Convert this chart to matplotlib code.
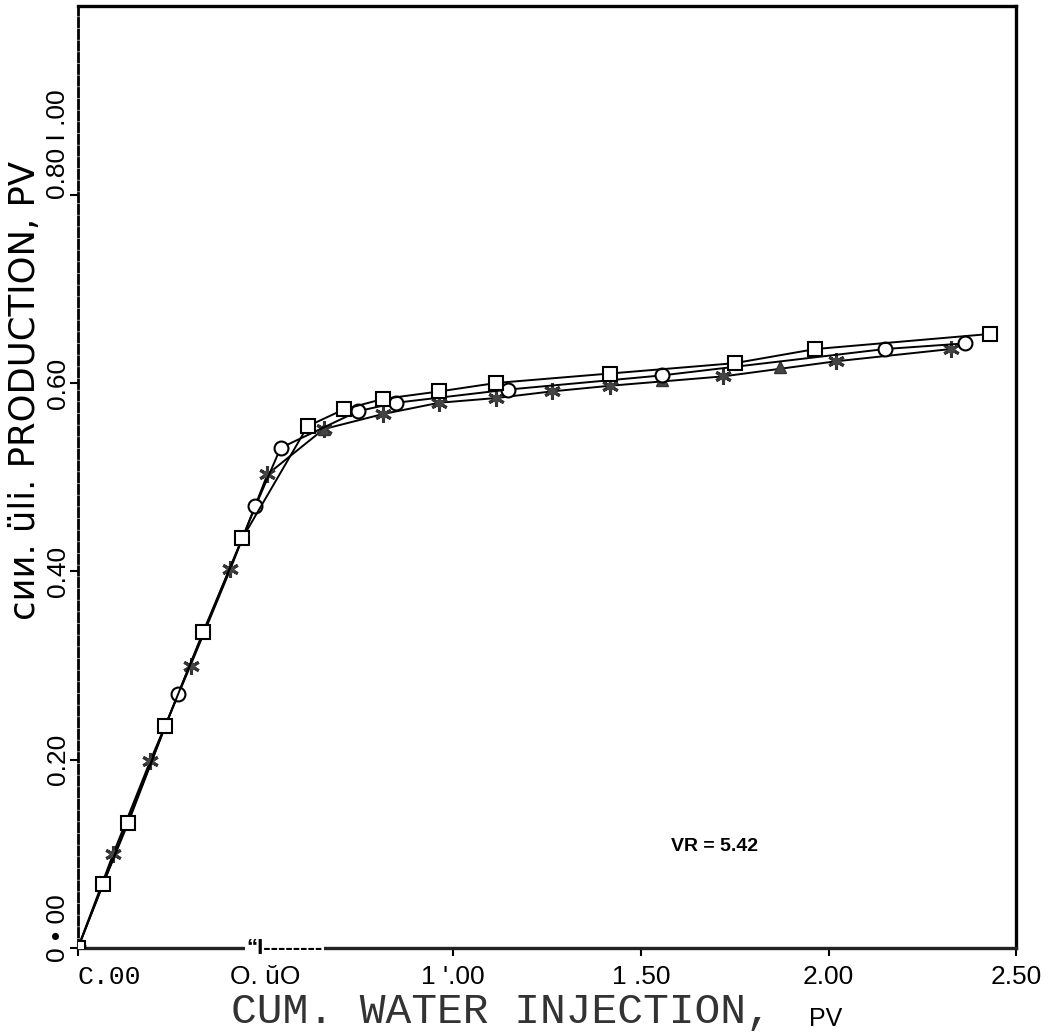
import matplotlib
matplotlib.use("Agg")
import matplotlib.pyplot as plt
import matplotlib.transforms as mtransforms

# Series
# squares (upper line)
x_sq = [0.0, 0.067, 0.134, 0.233, 0.334, 0.438, 0.612, 0.709, 0.813, 0.963,
        1.115, 1.417, 1.75, 1.965, 2.43]
y_sq = [0.0, 0.068, 0.133, 0.236, 0.336, 0.435, 0.554, 0.572, 0.583, 0.591,
        0.600, 0.610, 0.621, 0.636, 0.652]

# circles (middle line)
x_ci = [0.0, 0.267, 0.473, 0.54, 0.746, 0.848, 1.147, 1.556, 2.15, 2.364]
y_ci = [0.0, 0.27, 0.469, 0.531, 0.570, 0.579, 0.593, 0.608, 0.636, 0.642]

# asterisks (lower line)
x_st = [0.0, 0.094, 0.193, 0.30, 0.406, 0.505, 0.655, 0.813, 0.963, 1.115,
        1.262, 1.417, 1.72, 2.02, 2.326]
y_st = [0.0, 0.10, 0.199, 0.30, 0.402, 0.503, 0.551, 0.567, 0.579, 0.584,
        0.591, 0.597, 0.607, 0.623, 0.636]

# triangles (sit on the lower line)
x_tr = [0.0, 0.655, 1.556, 1.87]
y_tr = [0.0, 0.551, 0.603, 0.617]

x_ticks = [0.0, 0.5, 1.0, 1.5, 2.0, 2.5]
x_ticklabels = ["C.00", "O. ŭO", "1 '.00", "1 .50", "2.00", "2.50"]
y_ticks = [0.0, 0.2, 0.4, 0.6, 0.8]
y_ticklabels = ["0 • 00", "0.20", "0.40", "0.60", "0.80 I .00"]

narrow = ["Liberation Sans Narrow", "Liberation Sans", "DejaVu Sans"]
regular = ["Liberation Sans", "DejaVu Sans"]
mono = ["Liberation Mono", "DejaVu Sans Mono"]

fig = plt.figure(figsize=(10.53, 10.35), dpi=100)
ax = fig.add_axes([0.074, 0.084, 0.891, 0.910])

ax.plot(x_st, y_st, color="black", lw=1.4, marker=(6, 2, 0), ms=12,
        mew=2.2, mec="#333333", zorder=3)
ax.plot(x_st, y_st, ls="none", marker="o", ms=5, mfc="#444444",
        mec="#444444", zorder=4)
ax.plot(x_ci, y_ci, color="black", lw=1.4, marker="o", ms=10,
        mfc="white", mec="black", mew=1.5, zorder=5)
ax.plot(x_sq, y_sq, color="black", lw=1.4, marker="s", ms=10,
        mfc="white", mec="black", mew=1.5, zorder=6)
ax.plot(x_tr, y_tr, ls="none", marker="^", ms=9, mfc="#444444",
        mec="#333333", zorder=4)

ax.set_xlim(0, 2.5)
ax.set_ylim(0, 1.0)

ax.set_xticks(x_ticks)
ax.set_xticklabels(x_ticklabels, family=narrow, fontsize=19)
ax.set_yticks(y_ticks)
ax.set_yticklabels(y_ticklabels, family=narrow, fontsize=19,
                   rotation=90, va="center")
ax.tick_params(direction="out", length=6, width=1.5, colors="black")
ax.tick_params(axis="x", pad=6)
ax.tick_params(axis="y", pad=0)

xl = ax.get_xticklabels()
xl[0].set_family(mono)
xl[0].set_horizontalalignment("left")
yl = ax.get_yticklabels()
yl[0].set_transform(yl[0].get_transform() +
                    mtransforms.ScaledTranslation(0, 0.2, fig.dpi_scale_trans))
yl[-1].set_transform(yl[-1].get_transform() +
                     mtransforms.ScaledTranslation(0, 0.5, fig.dpi_scale_trans))

for side in ["top", "right", "bottom"]:
    ax.spines[side].set_linewidth(2.4)
ax.spines["bottom"].set_color("#222222")
ax.spines["left"].set_linewidth(2.0)
ax.spines["left"].set_linestyle((0, (3, 1.2)))

ax.set_ylabel("сии. üli. PRODUCTION, PV", family=["DejaVu Sans"], fontsize=25.5)
ax.yaxis.set_label_coords(-0.038, 0.592)

ax.text(0.451, -0.068, "CUM. WATER INJECTION,", transform=ax.transAxes,
        family=mono, fontsize=31, ha="center", va="center", color="#333333")
ax.text(0.797, -0.075, "PV", transform=ax.transAxes, family=narrow,
        fontsize=18, ha="center", va="center")

ax.text(0.45, 0.0, "“I--------", family=narrow, fontsize=16, ha="left",
        va="center", fontweight="bold",
        bbox=dict(facecolor="white", edgecolor="none", pad=1), zorder=10,
        clip_on=False)

ax.text(1.696, 0.108, "VR = 5.42", family=regular,
        fontsize=14, fontweight="bold", ha="center", va="center")

fig.savefig("out.png", dpi=100)
